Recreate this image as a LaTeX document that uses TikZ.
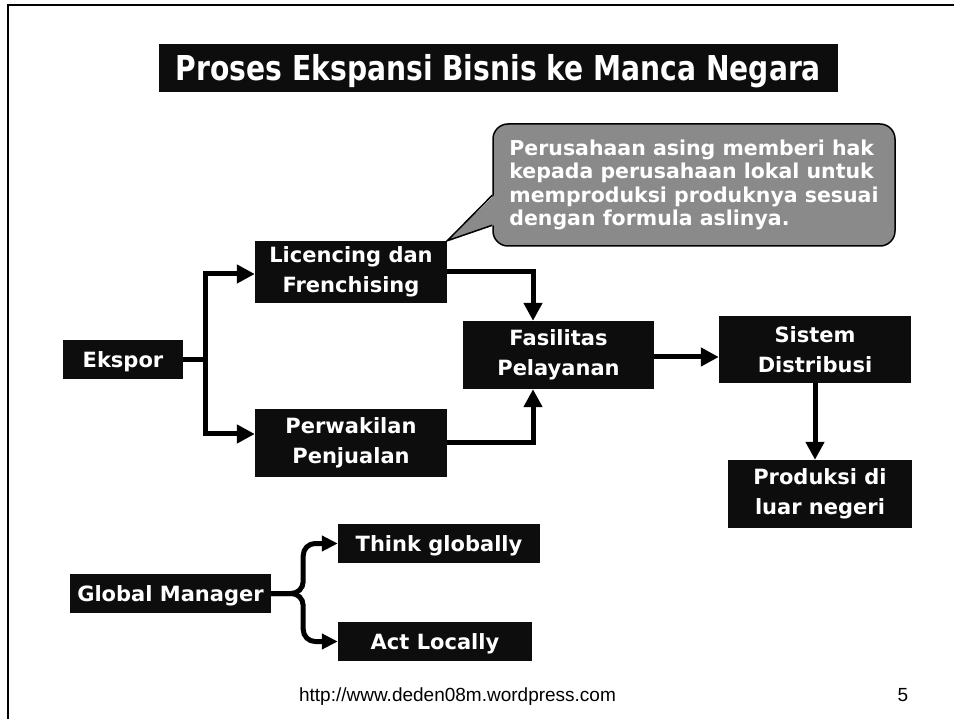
\documentclass[tikz,border=0pt]{standalone}
\usepackage{fontspec}
\usepackage{graphicx}
\setmainfont{DejaVu Sans}
\newfontfamily\footfont{Liberation Sans}
\usetikzlibrary{arrows.meta,calc}
\definecolor{boxblack}{HTML}{0D0D0D}
\definecolor{callgray}{HTML}{8A8A8A}
\begin{document}
\begin{tikzpicture}[x=1pt,y=-1pt,
  blackbox/.style={fill=boxblack, text=white, inner sep=0pt, align=center,
    font=\bfseries\fontsize{21}{30}\selectfont},
  onelinebox/.style={blackbox, text height=15.3pt, text depth=0pt},
  arr/.style={draw=black, line width=5pt, -{Triangle[length=18pt,width=18pt]}},
  arrsmall/.style={draw=black, line width=5pt, rounded corners=12pt, -{Triangle[length=16pt,width=15pt]}},
  frameline/.style={line width=2.2pt}]
\useasboundingbox (0,0) rectangle (954,719);

% frame
\draw[frameline] (8.3,719) -- (8.3,5) -- (954,5);

% title
\node[blackbox, minimum width=679pt, minimum height=48pt, text height=25pt, text depth=0pt] (title) at (498.5,68)
  {\fontsize{34.3}{40}\selectfont\resizebox{645pt}{\height}{Proses Ekspansi Bisnis ke Manca Negara}};

% boxes
\node[blackbox, minimum width=192pt, minimum height=62pt] (lic) at (351,272) {Licencing dan\\Frenchising};
\node[blackbox, minimum width=192pt, minimum height=68pt] (per) at (351,443) {Perwakilan\\Penjualan};
\node[onelinebox, minimum width=120pt, minimum height=39pt] (eks) at (123,360) {Ekspor};
\node[blackbox, minimum width=191pt, minimum height=68pt] (fas) at (558.5,355) {Fasilitas\\Pelayanan};
\node[blackbox, minimum width=192pt, minimum height=67pt] (sis) at (815,349.5) {Sistem\\Distribusi};
\node[blackbox, minimum width=184pt, minimum height=68pt] (prod) at (820,494) {Produksi di\\luar negeri};
\node[onelinebox, minimum width=202pt, minimum height=39pt] (think) at (439,543.5) {Think globally};
\node[onelinebox, minimum width=201pt, minimum height=39pt] (gm) at (170.5,593.5) {Global Manager};
\node[onelinebox, minimum width=194pt, minimum height=39pt] (act) at (435,641.5) {Act Locally};

% callout
\node[draw=black, line width=1.5pt, fill=callgray, rounded corners=15pt,
  minimum width=402pt, minimum height=122pt, inner sep=0pt,
  align=left, text=white,
  font=\bfseries\fontsize{20.5}{23.3}\selectfont] (co) at (694,185)
  {Perusahaan asing memberi hak\\kepada perusahaan lokal untuk\\memproduksi produknya sesuai\\dengan formula aslinya.};
\fill[callgray] ($(co.north west)+(2,72)$) -- (lic.north east) -- ($(co.north west)+(2,102)$) -- cycle;
\draw[line width=1.5pt, line join=miter] ($(co.north west)+(0,72)$) -- (lic.north east) -- ($(co.north west)+(0,102)$);

% connectors
\draw[arr] (eks.east) -- ++(22,0) |- ([yshift=-2pt]lic.west);
\draw[arr] (eks.east) -- ++(22,0) |- ([yshift=9pt]per.west);
\draw[arr] (lic.east) -| ([xshift=-25.5pt]fas.north);
\draw[arr] (per.east) -| ([xshift=-25.5pt]fas.south);
\draw[arr] ([yshift=-2pt]fas.east) -- ([yshift=-2pt]fas.east -| sis.west);
\draw[arr] (sis.south) -- (sis.south |- prod.north);
\draw[arrsmall] (gm.east) -- ++(32,0) |- (think.west);
\draw[arrsmall] (gm.east) -- ++(32,0) |- (act.west);

% footer
\node[font=\footfont\fontsize{19}{22}\selectfont] (url) at (457.5,697) {http://www.deden08m.wordpress.com};
\node[font=\footfont\fontsize{19}{22}\selectfont] (pg) at (903,695) {5};
\end{tikzpicture}
\end{document}
